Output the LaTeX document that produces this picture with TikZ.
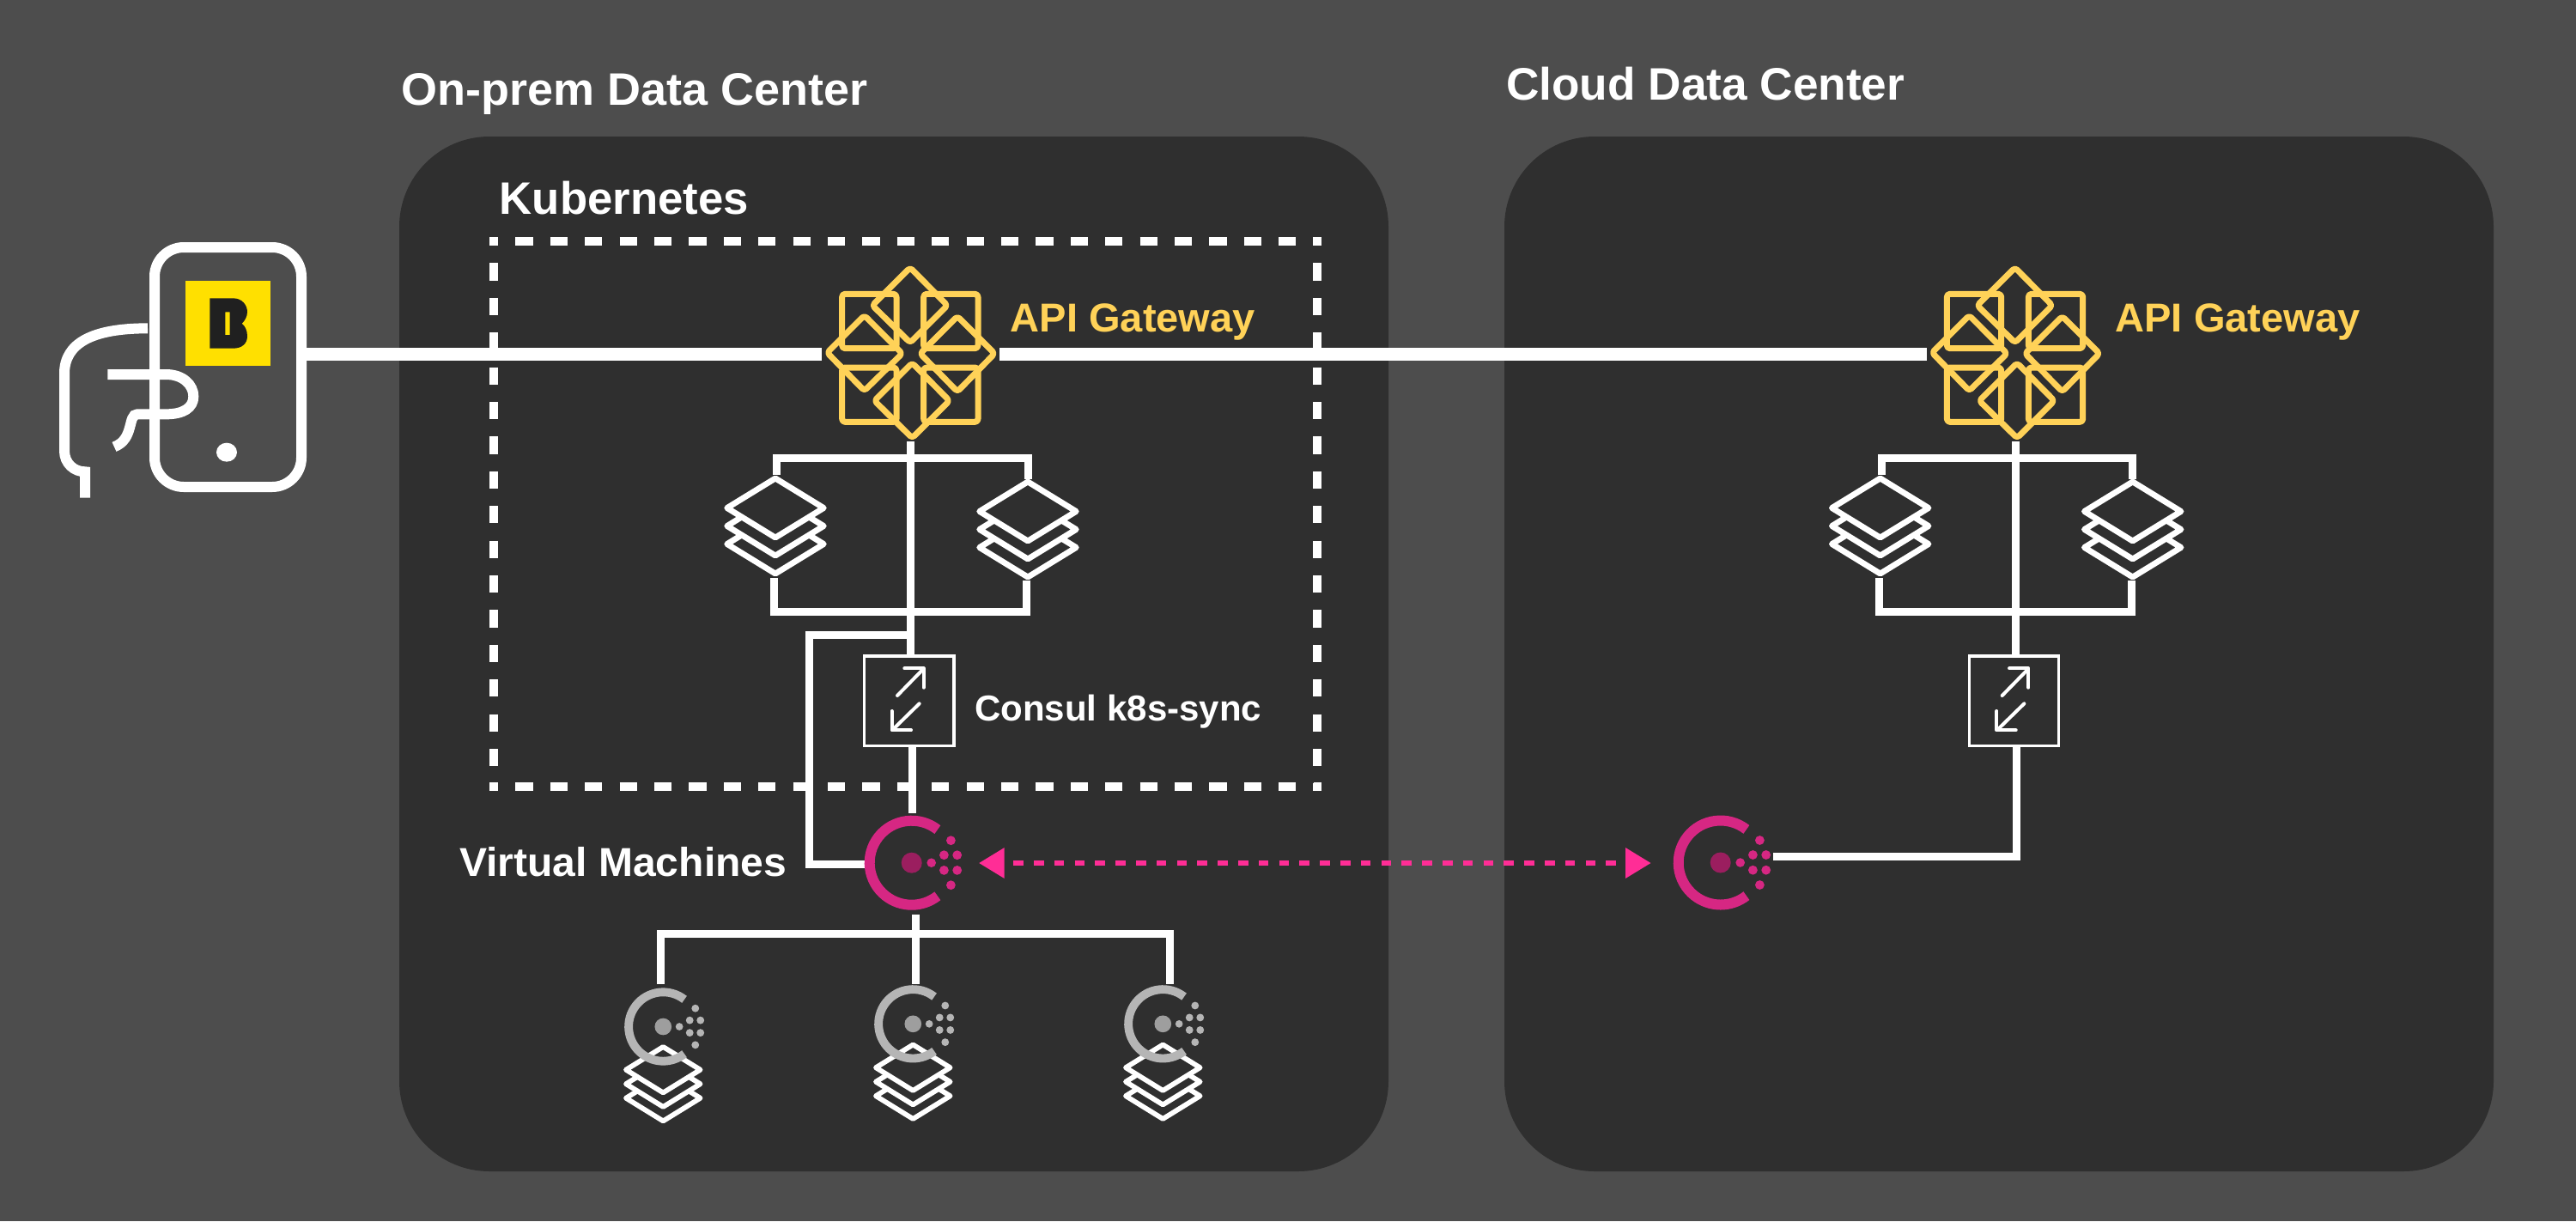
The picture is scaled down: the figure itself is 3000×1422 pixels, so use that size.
\documentclass[tikz,border=0pt]{standalone}
\usepackage{fontspec}
\setmainfont{Liberation Sans}
\usetikzlibrary{arrows.meta}
\definecolor{bgc}{HTML}{4D4D4D}
\definecolor{panelc}{HTML}{2F2F2F}
\definecolor{goldc}{HTML}{FFD258}
\definecolor{yellowc}{HTML}{FFE000}
\definecolor{inkc}{HTML}{202020}
\definecolor{ringc}{HTML}{D62783}
\definecolor{corec}{HTML}{9B1E5F}
\definecolor{pinkc}{HTML}{FF2D96}
\definecolor{gringc}{HTML}{B5B5B5}
\definecolor{gcorec}{HTML}{9E9E9E}
\newsavebox{\fitbox}
\newcommand{\fitw}[2]{\sbox{\fitbox}{#2}\pgfmathsetmacro{\fitr}{#1/(\wd\fitbox/1pt)}\scalebox{\fitr}[1]{\usebox{\fitbox}}}
\tikzset{
  panelbox/.style={fill=panelc,rounded corners=105pt,inner sep=0pt,minimum width=1152pt,minimum height=1205pt},
  wire/.style={draw=white,line width=9pt,line join=miter},
  mainwire/.style={draw=white,line width=15pt},
  dashside/.style={draw=white,line width=10pt,dash pattern=on 20.2pt off 20.2pt,dash phase=10pt},
  title/.style={anchor=base west,inner sep=0pt,text=white,font=\bfseries\fontsize{53}{60}\selectfont},
  gwlabel/.style={anchor=base west,inner sep=0pt,text=goldc,font=\bfseries\fontsize{47}{54}\selectfont},
  lab/.style={anchor=base west,inner sep=0pt,text=white,font=\bfseries\fontsize{47}{54}\selectfont},
  smalllab/.style={anchor=base west,inner sep=0pt,text=white,font=\bfseries\fontsize{42}{48}\selectfont},
  gwnode/.style={inner sep=0pt,minimum width=207pt,minimum height=203pt},
  syncbox/.style={draw=white,line width=3.3pt,inner sep=0pt,minimum size=104.3pt},
  goldline/.style={draw=goldc,line width=7pt,rounded corners=3.5pt,line join=round},
  pinkarrow/.style={draw=pinkc,line width=6pt,dash pattern=on 11.6pt off 12.2pt,dash phase=11.6pt,
    {Triangle[length=29.5pt,width=34pt,fill=pinkc]}-{Triangle[length=29.5pt,width=34pt,fill=pinkc]}},
}
% gateway icon: #1 node name, #2 x offset
\newcommand{\gwicon}[2]{%
  \node[gwnode] (#1) at (1060.5+#2,412.5) {};
  \begin{scope}[shift={(930+#2,280)},x=0.33333pt,y=-0.33333pt]
    \draw[goldline] (152,187) rectangle (342,377);
    \draw[goldline] (437,187) rectangle (627,377);
    \draw[goldline] (152,444) rectangle (342,634);
    \draw[goldline] (437,444) rectangle (627,634);
    \draw[goldline] (390,95) -- (520,227) -- (390,357) -- (258,227) -- cycle;
    \draw[goldline] (555,265) -- (685,395) -- (555,528) -- (425,395) -- cycle;
    \draw[goldline] (397,428) -- (527,560) -- (397,690) -- (265,560) -- cycle;
    \draw[goldline] (230,262) -- (362,395) -- (230,525) -- (100,392) -- cycle;
  \end{scope}}
% stack icon: name, cx, top y, half width, half height, layer step, line width
\newcommand{\stackicon}[7]{%
  \node[inner sep=0pt,minimum width=2*#4 pt,minimum height=2*#5 pt+2*#6 pt] (#1) at (#2,#3+#5+#6) {};
  \begin{scope}[shift={(#2,#3+#5)},draw=white,line width=#7pt,line join=round]
    \pgfmathsetmacro{\stkT}{#6*#4/(2*#5)}
    \pgfmathsetmacro{\stkA}{#4-\stkT}
    \pgfmathsetmacro{\stkH}{#6/2}
    \pgfmathsetmacro{\stkC}{#6*2-\stkH}
    \pgfmathsetmacro{\stkD}{#6*2}
    \draw (-\stkA,\stkH) -- (-#4,#6) -- (0,#5+#6) -- (#4,#6) -- (\stkA,\stkH);
    \draw (-\stkA,\stkC) -- (-#4,\stkD) -- (0,#5+\stkD) -- (#4,\stkD) -- (\stkA,\stkC);
    \draw (-#4,0) -- (0,-#5) -- (#4,0) -- (0,#5) -- cycle;
  \end{scope}}
% consul icon: name, cx, cy, scale, ring colour, core colour
\newcommand{\consulicon}[6]{%
  \node[circle,inner sep=0pt,minimum size=#4*110pt] (#1) at (#2,#3) {};
  \begin{scope}[shift={(#2,#3)},scale=#4]
    \draw[#5,line width=#4*12pt] (52:49pt) arc[start angle=52,end angle=308,radius=49pt];
    \fill[#6] (0,0) circle[radius=12pt];
    \fill[#5] (23pt,0pt) circle[radius=5.3pt];
    \foreach \dx/\dy in {37.7/-8.7,53/-8.7,37.7/9,53/9,45.7/-26,45.7/26}{
      \fill[#5] (\dx pt,\dy pt) circle[radius=5.4pt];}
  \end{scope}}
\begin{document}
\begin{tikzpicture}[x=1pt,y=-1pt]
\useasboundingbox (0,0) rectangle (3000,1422);
\fill[bgc] (0,0) rectangle (3000,1422);

% panels
\node[panelbox] (dcL) at (1041,761.5) {};
\node[panelbox] (dcR) at (2328,761.5) {};

% kubernetes dashed box
\coordinate (kTL) at (575,281);
\coordinate (kTR) at (1534,281);
\coordinate (kBL) at (575,916);
\coordinate (kBR) at (1534,916);
\draw[dashside] ([xshift=-5pt]kTL) -- ([xshift=5pt]kTR);
\draw[dashside] ([xshift=-5pt]kBL) -- ([xshift=5pt]kBR);
\draw[dashside] ([yshift=5pt]kTL) -- ([yshift=-5pt]kBL);
\draw[dashside] ([yshift=5pt]kTR) -- ([yshift=-5pt]kBR);

% phone and hand
\node[draw=white,line width=12pt,rounded corners=34pt,inner sep=0pt,minimum width=171pt,minimum height=279pt] (phone) at (265.5,427.5) {};
\begin{scope}[shift={(40,260)},x=0.33333pt,y=-0.33333pt]
  \draw[white,line width=12pt] (396,367) .. controls (200,367) and (105,420) .. (105,525) -- (105,795) .. controls (105,840) and (140,868) .. (177,868) -- (177,959);
  \draw[white,line width=12pt] (256,528) -- (460,528) .. controls (520,528) and (556,565) .. (556,605) .. controls (556,645) and (520,667) .. (460,667) -- (360,667) .. controls (325,667) and (350,755) .. (279,781);
  \fill[yellowc] (528,201) rectangle (825,497);
  \fill[inkc,even odd rule] (613,262) -- (695,262) .. controls (725,262) and (744,285) .. (744,310) .. controls (744,325) and (735,342) .. (725,350) .. controls (737,360) and (744,375) .. (744,395) .. controls (744,420) and (725,437) .. (695,437) -- (613,437) -- cycle
     (667,310) rectangle (683,390);
  \fill[white] (672,800) ellipse[x radius=36,y radius=33];
\end{scope}

% gateways
\gwicon{gwL}{0}
\gwicon{gwR}{1286.7}

% main line
\draw[mainwire] (phone.east |- gwL.west) -- (gwL.west);
\draw[mainwire] (gwL.east) -- (gwR.west);

% stacks in the two clusters
\stackicon{stA}{903}{557}{56.3}{34.5}{21}{6.8}
\stackicon{stB}{1197}{561}{56.3}{34.5}{21}{6.8}
\stackicon{stC}{2189.7}{557}{56.3}{34.5}{21}{6.8}
\stackicon{stD}{2483.7}{561}{56.3}{34.5}{21}{6.8}

% sync boxes
\node[syncbox] (boxL) at (1058.85,816) {};
\node[syncbox] (boxR) at (2345.55,816) {};
\foreach \nm/\ox in {L/0,R/1286.7}{
\begin{scope}[shift={(820+\ox,520)},x=0.33333pt,y=-0.33333pt,draw=white,line width=4pt,line cap=round,line join=round]
  \draw (675,870) -- (765,778);
  \draw (700,775) -- (767,775) -- (767,842);
  \draw (752,898) -- (660,988);
  \draw (656,924) -- (656,991) -- (723,991);
\end{scope}}

% wiring, left cluster
\coordinate (aT) at (904.5,553);
\coordinate (aB) at (901.5,673);
\coordinate (bT) at (1197,558);
\coordinate (bB) at (1195.7,676);
\coordinate (jT) at (1060.5,533.5);
\coordinate (jB) at (1060.5,712.5);
\coordinate (jC) at (1060.5,739.3);
\coordinate (jD) at (942,739.3);
\coordinate (boxTopL) at (1060.5,762);
\coordinate (boxOutL) at (1062,870);
\coordinate (cTopL) at (1062,947);
\coordinate (cWestL) at (1010,1006.5);
\draw[wire] (gwL.south) -- (boxTopL);
\draw[wire] (aT) |- (jT) -| (bT);
\draw[wire] (aB) |- (jB) -| (bB);
\draw[wire] (jC) -- (jD) |- (cWestL);
\draw[wire] (boxOutL) -- (cTopL);

% wiring, right cluster
\coordinate (cT) at (2191.2,553);
\coordinate (cB) at (2188.2,673);
\coordinate (dT) at (2483.7,558);
\coordinate (dB) at (2482.4,676);
\coordinate (kT) at (2347.2,533.5);
\coordinate (kB) at (2347.2,712.5);
\coordinate (boxTopR) at (2347.2,762);
\coordinate (boxOutR) at (2348.7,870);
\coordinate (cPortR) at (2065,997);
\draw[wire] (gwR.south) -- (boxTopR);
\draw[wire] (cT) |- (kT) -| (dT);
\draw[wire] (cB) |- (kB) -| (dB);
\draw[wire] (boxOutR) |- (cPortR);

% virtual machine wiring
\coordinate (vTop) at (1066,1065);
\coordinate (vJ) at (1066,1087.5);
\coordinate (vL) at (769.5,1146);
\coordinate (vM) at (1066,1146);
\coordinate (vR) at (1362,1146);
\draw[wire] (vTop) -- (vM);
\draw[wire] (vL) |- (vJ) -| (vR);

% consul servers
\consulicon{csL}{1061.7}{1004.7}{1}{ringc}{corec}
\consulicon{csR}{2003.7}{1004.5}{1}{ringc}{corec}

% federation arrow
\coordinate (pL) at (1140,1005);
\coordinate (pR) at (1922.7,1005);
\draw[pinkarrow] (pL) -- (pR);

% vm stacks and agents
\stackicon{vmA}{772.3}{1219}{43.3}{26.7}{16.5}{5.8}
\stackicon{vmB}{1063.3}{1216.5}{43.3}{26.7}{16.5}{5.8}
\stackicon{vmC}{1354.3}{1216.5}{43.3}{26.7}{16.5}{5.8}
\consulicon{agA}{772.3}{1195.5}{0.82}{gringc}{gcorec}
\consulicon{agB}{1063.3}{1192.3}{0.82}{gringc}{gcorec}
\consulicon{agC}{1354.3}{1192.3}{0.82}{gringc}{gcorec}

% labels
\node[title] (tOn) at (467,122) {\fitw{543}{On-prem Data Center}};
\node[title] (tCl) at (1754,116.7) {\fitw{464}{Cloud Data Center}};
\node[title] (tKu) at (581.6,249) {\fitw{290}{Kubernetes}};
\node[gwlabel] (tGwL) at (1176.7,386.7) {\fitw{285}{API Gateway}};
\node[gwlabel] (tGwR) at (2463.4,386.7) {\fitw{285}{API Gateway}};
\node[smalllab] (tSy) at (1135,839) {\fitw{334}{Consul k8s-sync}};
\node[lab] (tVm) at (535,1020) {\fitw{381}{Virtual Machines}};
\end{tikzpicture}
\end{document}
